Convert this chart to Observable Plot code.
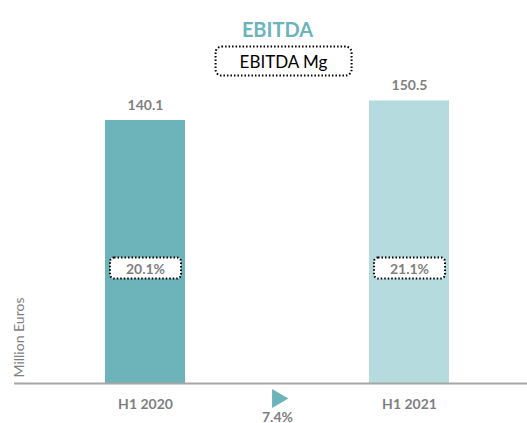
<!DOCTYPE html>
<html><head><meta charset="utf-8">
<script src="https://cdn.jsdelivr.net/npm/d3@7"></script>
<script src="https://cdn.jsdelivr.net/npm/@observablehq/plot@0.6"></script>
<style>body{margin:0;background:#fff;} svg{font-family:Lato, "Open Sans", sans-serif;}</style>
</head><body><div id="chart"></div>
<script>
const categories = ["H1 2020", "H1 2021"];
const ebitda = [140.1, 150.5];
const margins = ["20.1%", "21.1%"];
const growth = "7.4%";
const xDomain = ["H1 2020", "growth", "H1 2021"];
const barColors = ["#6db3ba", "#b6dbdf"];
const title = "EBITDA";
const subtitle = "EBITDA Mg";
const yLabel = "Million Euros";

const data = categories.map((c, i) => ({cat: c, value: ebitda[i], mg: margins[i]}));
const grey = "#7f7f7f";

const chart = Plot.plot({
  width: 527, height: 423,
  marginTop: 0, marginBottom: 40, marginLeft: 14, marginRight: 0,
  x: {domain: xDomain, paddingInner: 0.396, paddingOuter: 0.634, align: 0.536, axis: null},
  y: {domain: [0, 204], axis: null},
  color: {domain: categories, range: barColors},
  marks: [
    Plot.barY(data, {x: "cat", y: "value", fill: "cat"}),
    Plot.ruleY([0], {stroke: "#a6a6a6", strokeWidth: 2}),
    Plot.text(data, {x: "cat", y: "value", text: d => d.value.toFixed(1), dy: -15, fill: grey, fontWeight: "bold", fontSize: 14}),
    Plot.text(data, {x: "cat", text: "mg", frameAnchor: "bottom", dy: -110, fill: grey, fontWeight: "bold", fontSize: 14, className: "pct"}),
    Plot.text(categories, {x: d => d, frameAnchor: "bottom", dy: 25, fill: grey, fontWeight: "bold", fontSize: 14}),
    Plot.dot([growth], {x: () => "growth", frameAnchor: "bottom", dy: 15, symbol: "triangle", rotate: 90, r: 7, fill: barColors[0], stroke: "none"}),
    Plot.text([growth], {x: () => "growth", frameAnchor: "bottom", dy: 38, fill: grey, fontWeight: "bold", fontSize: 14}),
    Plot.text([title], {x: () => "growth", frameAnchor: "top", dy: 22, fill: barColors[0], fontWeight: "bold", fontSize: 20}),
    Plot.text([subtitle], {x: () => "growth", frameAnchor: "top", dy: 55, dx: 6, fill: "#000", fontSize: 17, className: "sub"}),
    Plot.text([yLabel], {frameAnchor: "bottom-left", rotate: -90, textAnchor: "start", dx: 9, dy: -6, fill: grey, fontSize: 14})
  ]
});
document.getElementById("chart").appendChild(chart);

function boxAround(cls, w, h, rx) {
  d3.select(chart).selectAll("g." + cls + " text").each(function () {
    const b = this.getBBox();
    const cx = b.x + b.width / 2, cy = b.y + b.height / 2;
    const t = this.getAttribute("transform");
    const r = document.createElementNS("http://www.w3.org/2000/svg", "rect");
    r.setAttribute("x", cx - w / 2); r.setAttribute("y", cy - h / 2);
    r.setAttribute("width", w); r.setAttribute("height", h);
    r.setAttribute("rx", rx);
    r.setAttribute("fill", "#fff"); r.setAttribute("stroke", "#000");
    r.setAttribute("stroke-width", 2); r.setAttribute("stroke-dasharray", "1.5 2");
    if (t) r.setAttribute("transform", t);
    this.parentNode.insertBefore(r, this);
  });
}
boxAround("pct", 71, 21, 4);
boxAround("sub", 136, 29, 6);
</script></body></html>
